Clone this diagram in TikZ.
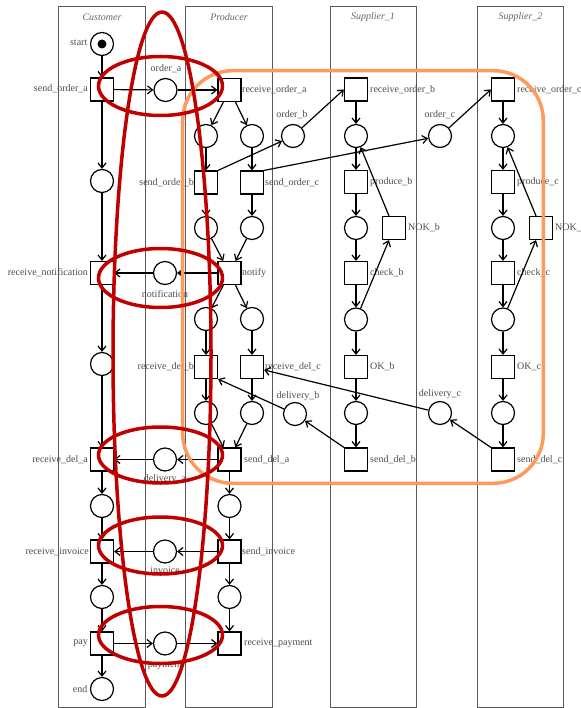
\documentclass[tikz,border=0pt]{standalone}
\usepackage{fontspec}
\setmainfont{Liberation Serif}
\usetikzlibrary{arrows.meta}
\definecolor{hlred}{HTML}{C00000}
\definecolor{hlorange}{HTML}{FF9A5E}
\begin{document}
\begin{tikzpicture}[x=1pt,y=-1pt,
  pl/.style={circle,draw,line width=1.2pt,minimum size=23pt,inner sep=0pt},
  tr/.style={rectangle,draw,line width=1.2pt,minimum size=23pt,inner sep=0pt},
  lbl/.style={font=\fontsize{10}{12}\selectfont,text=black!70,inner sep=0pt},
  lanebox/.style={draw=black!65,line width=0.9pt},
  lanetitle/.style={font=\fontsize{10}{12}\selectfont\itshape,text=black!60,inner sep=0pt},
  flow/.style={line width=1.2pt,-{Straight Barb[length=5pt,width=8pt,line width=1.2pt]}},
  hl/.style={draw=hlred,line width=3.5pt},
  region/.style={draw=hlorange,line width=3.5pt,rounded corners=50pt}
]
\useasboundingbox (0,0) rectangle (580,708);
% lanes
\draw[lanebox] (58.7,6) rectangle (145.7,707);
\draw[lanebox] (185.3,6) rectangle (272.7,707);
\draw[lanebox] (330,6) rectangle (416.7,707);
\draw[lanebox] (477.3,6) rectangle (563.3,707);
\node[lanetitle] (T1) at (102,17) {Customer};
\node[lanetitle] (T2) at (229,17) {Producer};
\node[lanetitle] (T3) at (373,17) {Supplier\_1};
\node[lanetitle] (T4) at (520.5,17) {Supplier\_2};

% customer
\node[pl] (start) at (102,44) {};
\node[circle,fill,inner sep=0pt,minimum size=9pt] (tok) at (102,44) {};
\node[tr] (soa) at (102,89.5) {};
\node[pl] (cp1) at (102,181) {};
\node[tr] (rn) at (102,273) {};
\node[pl] (cp2) at (102,364) {};
\node[tr] (rda) at (102,459.5) {};
\node[pl] (cp3) at (102,506) {};
\node[tr] (ri) at (102,551.5) {};
\node[pl] (cp4) at (102,597) {};
\node[tr] (pay) at (102,643.5) {};
\node[pl] (end) at (102,689) {};

% interface places
\node[pl] (oa) at (165.5,90) {};
\node[pl] (nt) at (165,273) {};
\node[pl] (da) at (165,459.5) {};
\node[pl] (inv) at (165,551.5) {};
\node[pl] (pm) at (165,643.5) {};

% producer
\node[tr] (roa) at (229.5,90) {};
\node[pl] (pp1) at (206,136) {};
\node[pl] (pp2) at (252,136) {};
\node[tr] (sob) at (206,182.5) {};
\node[tr] (soc) at (252,182.5) {};
\node[pl] (pp3) at (206,228) {};
\node[pl] (pp4) at (252,228) {};
\node[tr] (ntf) at (229.5,273) {};
\node[pl] (pp5) at (206,319) {};
\node[pl] (pp6) at (252,319) {};
\node[tr] (rdb) at (206,367) {};
\node[tr] (rdc) at (252,367) {};
\node[pl] (pp7) at (206,413) {};
\node[pl] (pp8) at (252,413) {};
\node[tr] (sda) at (229.5,459.5) {};
\node[pl] (pp9) at (229.5,506) {};
\node[tr] (si) at (229.5,551.5) {};
\node[pl] (pp10) at (229.5,597) {};
\node[tr] (rp) at (229.5,643.5) {};

% middle places
\node[pl] (ob) at (293,136) {};
\node[pl] (dlb) at (295,414) {};
\node[pl] (oc) at (440,136) {};
\node[pl] (dlc) at (440,413) {};

% supplier 1
\node[tr] (rob) at (356,89.5) {};
\node[pl] (s1p1) at (356,136) {};
\node[tr] (pb) at (356,182) {};
\node[pl] (s1p2) at (356,228) {};
\node[tr] (nokb) at (394,228) {};
\node[tr] (cb) at (356,273) {};
\node[pl] (s1p3) at (356,319.5) {};
\node[tr] (okb) at (356,367) {};
\node[pl] (s1p4) at (356,413) {};
\node[tr] (sdb) at (356,459.5) {};

% supplier 2
\node[tr] (roc) at (503,89.5) {};
\node[pl] (s2p1) at (503,136) {};
\node[tr] (pc) at (503,182) {};
\node[pl] (s2p2) at (503,228) {};
\node[tr] (nokc) at (541,228) {};
\node[tr] (cc) at (503,273) {};
\node[pl] (s2p3) at (503,319.5) {};
\node[tr] (okc) at (503,367) {};
\node[pl] (s2p4) at (503,413) {};
\node[tr] (sdc) at (503,459.5) {};

% labels
\node[lbl,anchor=east] (Lstart) at (87.5,43) {start};
\node[lbl,anchor=east] (Lsoa) at (88,89) {send\_order\_a};
\node[lbl,anchor=east] (Lrn) at (88,273) {receive\_notification};
\node[lbl,anchor=east] (Lrda) at (88,459.5) {receive\_del\_a};
\node[lbl,anchor=east] (Lri) at (89,551.5) {receive\_invoice};
\node[lbl,anchor=east] (Lpay) at (88,643.5) {pay};
\node[lbl,anchor=east] (Lend) at (87.5,689) {end};
\node[lbl] (Loa) at (166,69) {order\_a};
\node[lbl] (Lnt) at (165,294.5) {notification};
\node[lbl] (Lda) at (165,479) {delivery\_a};
\node[lbl] (Linv) at (165,570) {invoice};
\node[lbl] (Lpm) at (165,666) {payment};
\node[lbl,anchor=west] (Lroa) at (242,90) {receive\_order\_a};
\node[lbl,anchor=east] (Lsob) at (194,182.5) {send\_order\_b};
\node[lbl,anchor=west] (Lsoc) at (265,182.5) {send\_order\_c};
\node[lbl,anchor=west] (Lntf) at (242,273) {notify};
\node[lbl,anchor=east] (Lrdb) at (194,367) {receive\_del\_b};
\node[lbl,anchor=west] (Lrdc) at (265,367) {receive\_del\_c};
\node[lbl,anchor=west] (Lsda) at (244,459.5) {send\_del\_a};
\node[lbl,anchor=west] (Lsi) at (242,551.5) {send\_invoice};
\node[lbl,anchor=west] (Lrp) at (244,643.5) {receive\_payment};
\node[lbl] (Lob) at (292,115) {order\_b};
\node[lbl] (Ldlb) at (298,396) {delivery\_b};
\node[lbl] (Loc) at (440,115) {order\_c};
\node[lbl] (Ldlc) at (440,394) {delivery\_c};
\node[lbl,anchor=west] (Lrob) at (370,89.5) {receive\_order\_b};
\node[lbl,anchor=west] (Lpb) at (370,182) {produce\_b};
\node[lbl,anchor=west] (Lnokb) at (408,228) {NOK\_b};
\node[lbl,anchor=west] (Lcb) at (370,273) {check\_b};
\node[lbl,anchor=west] (Lokb) at (370,367) {OK\_b};
\node[lbl,anchor=west] (Lsdb) at (370,459.5) {send\_del\_b};
\node[lbl,anchor=west] (Lroc) at (517,89.5) {receive\_order\_c};
\node[lbl,anchor=west] (Lpc) at (517,182) {produce\_c};
\node[lbl,anchor=west] (Lnokc) at (555,228) {NOK\_c};
\node[lbl,anchor=west] (Lcc) at (517,273) {check\_c};
\node[lbl,anchor=west] (Lokc) at (517,367) {OK\_c};
\node[lbl,anchor=west] (Lsdc) at (517,459.5) {send\_del\_c};

% arcs customer
\draw[flow] (start) -- (soa);
\draw[flow] (soa) -- (oa);
\draw[flow] (oa) -- (roa);
\draw[flow] (soa) -- (cp1);
\draw[flow] (cp1) -- (rn);
\draw[flow] (rn) -- (cp2);
\draw[flow] (cp2) -- (rda);
\draw[flow] (rda) -- (cp3);
\draw[flow] (cp3) -- (ri);
\draw[flow] (ri) -- (cp4);
\draw[flow] (cp4) -- (pay);
\draw[flow] (pay) -- (end);
\draw[flow] (ntf) -- (nt);
\draw[flow] (nt) -- (rn);
\draw[flow] (sda) -- (da);
\draw[flow] (da) -- (rda);
\draw[flow] (si) -- (inv);
\draw[flow] (inv) -- (ri);
\draw[flow] (pay) -- (pm);
\draw[flow] (pm) -- (rp);
% producer
\draw[flow] (roa) -- (pp1);
\draw[flow] (roa) -- (pp2);
\draw[flow] (pp1) -- (sob);
\draw[flow] (pp2) -- (soc);
\draw[flow] (sob.north east) -- (ob);
\draw[flow] (ob) -- (rob.west);
\draw[flow] (soc.north east) -- (oc);
\draw[flow] (oc) -- (roc.west);
\draw[flow] (sob) -- (pp3);
\draw[flow] (soc) -- (pp4);
\draw[flow] (pp3) -- (ntf);
\draw[flow] (pp4) -- (ntf);
\draw[flow] (ntf) -- (pp5);
\draw[flow] (ntf) -- (pp6);
\draw[flow] (pp5) -- (rdb);
\draw[flow] (pp6) -- (rdc);
\draw[flow] (rdb) -- (pp7);
\draw[flow] (rdc) -- (pp8);
\draw[flow] (pp7) -- (sda);
\draw[flow] (pp8) -- (sda);
\draw[flow] (sda) -- (pp9);
\draw[flow] (pp9) -- (si);
\draw[flow] (si) -- (pp10);
\draw[flow] (pp10) -- (rp);
% supplier 1
\draw[flow] (rob) -- (s1p1);
\draw[flow] (s1p1) -- (pb);
\draw[flow] (pb) -- (s1p2);
\draw[flow] (s1p2) -- (cb);
\draw[flow] (cb) -- (s1p3);
\draw[flow] (s1p3) -- (okb);
\draw[flow] (okb) -- (s1p4);
\draw[flow] (s1p4) -- (sdb);
\draw[flow] (nokb) -- (s1p1);
\draw[flow] (s1p3) -- (nokb);
\draw[flow] (sdb.north west) -- (dlb);
\draw[flow] (dlb) -- (rdb.south east);
% supplier 2
\draw[flow] (roc) -- (s2p1);
\draw[flow] (s2p1) -- (pc);
\draw[flow] (pc) -- (s2p2);
\draw[flow] (s2p2) -- (cc);
\draw[flow] (cc) -- (s2p3);
\draw[flow] (s2p3) -- (okc);
\draw[flow] (okc) -- (s2p4);
\draw[flow] (s2p4) -- (sdc);
\draw[flow] (nokc) -- (s2p1);
\draw[flow] (s2p3) -- (nokc);
\draw[flow] (sdc.north west) -- (dlc);
\draw[flow] (dlc) -- (rdc);

% highlights
\draw[region] (182.7,70.7) rectangle (543.3,483.3);
\draw[hl] (162,354) ellipse [x radius=49pt, y radius=342pt];
\draw[hl] (160.5,86) ellipse [x radius=62pt, y radius=29.5pt];
\draw[hl] (160.5,278) ellipse [x radius=62pt, y radius=29.5pt];
\draw[hl] (160.5,455) ellipse [x radius=62pt, y radius=28pt];
\draw[hl] (160.5,545.5) ellipse [x radius=62pt, y radius=28.5pt];
\draw[hl] (160.5,635) ellipse [x radius=62pt, y radius=28.5pt];
\end{tikzpicture}
\end{document}
